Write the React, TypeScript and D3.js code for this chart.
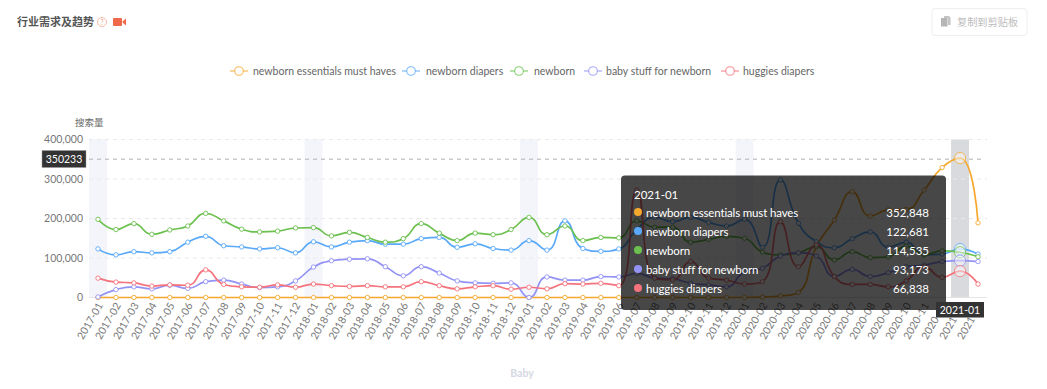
import React from "react";
import * as d3 from "d3";

const years = [2017, 2018, 2019, 2020];
const months = [
  ...years.flatMap((y) => d3.range(1, 13).map((m) => `${y}-${String(m).padStart(2, "0")}`)),
  "2021-01",
  "2021-02",
];

const essentials = [0,0,0,0,0,0,0,0,0,0,0,0,0,0,0,0,0,0,0,0,0,0,0,0,0,0,0,0,0,0,0,0,0,0,0,0,0,1000,4000,13000,129000,196000,268000,206000,222000,223000,272000,329000,352848,189000];
const diapers = [123000,108000,116000,113000,116000,140000,155000,131000,128000,123000,126000,113000,141000,128000,140000,144000,135000,135000,149000,152000,127000,136000,124000,120000,144000,120000,194000,124000,117000,123000,172000,203000,192000,203000,190000,181000,198000,127000,298000,188000,141000,126000,149000,166000,127000,140000,108000,110000,122681,110000];
const newborn = [198000,172000,187000,160000,171000,181000,213000,194000,173000,166000,168000,176000,177000,156000,165000,152000,140000,149000,187000,163000,144000,163000,159000,172000,203000,159000,181000,144000,152000,151000,194000,178000,178000,140000,147000,155000,150000,115000,108000,113000,129000,95000,116000,101000,103000,130000,108000,118000,114535,103000];
const babyStuff = [1300,20000,27000,22000,31000,23000,40000,44000,34000,25000,27000,42000,77000,93000,97000,98000,78000,55000,78000,62000,42000,37000,36000,37000,0,52000,44000,44000,53000,52000,61000,49000,47000,36000,32000,27000,65000,74000,105000,113000,105000,53000,71000,53000,63000,78000,82000,91000,93173,91000];
const huggies = [49000,39000,37000,29000,32000,31000,70000,33000,27000,26000,32000,26000,34000,30000,28000,30000,27000,27000,40000,30000,22000,27000,30000,21000,26000,22000,35000,34000,36000,30000,272000,49000,45000,91000,49000,44000,34000,40000,192000,78000,133000,53000,33000,33000,27000,42000,78000,51000,66838,34000];

const seriesNames = ["newborn essentials must haves", "newborn diapers", "newborn", "baby stuff for newborn", "huggies diapers"];
const seriesValues = [essentials, diapers, newborn, babyStuff, huggies];
const seriesColors = ["#f5a82e", "#5aa9f8", "#6cc04f", "#9393f5", "#f5737c"];
const legendCenters = [239, 411, 519, 593, 730];
const legendTextX = [253, 426, 534, 606, 743];
const yTicks = [0, 100000, 200000, 300000, 400000];
const shadedMonths = ["2017-01", "2018-01", "2019-01", "2020-01"];
const hoverIndex = 48;
const hoverValues = ["352,848", "122,681", "114,535", "93,173", "66,838"];
const pointerValue = 350233;

const FONT = "Lato,'Noto Sans CJK SC',sans-serif";
const CJK = "'Noto Sans CJK SC',sans-serif";

// ECharts-style clamped smooth curve, as a D3 curve factory
function echartsCurve(ctx: any) {
  let pts: [number, number][] = [];
  const smooth = 0.5;
  const clamp = (v: number, a: number, b: number) => Math.max(Math.min(a, b), Math.min(Math.max(a, b), v));
  return {
    lineStart() { pts = []; },
    point(x: number, y: number) { pts.push([+x, +y]); },
    areaStart() {},
    areaEnd() {},
    lineEnd() {
      const n = pts.length;
      if (!n) return;
      ctx.moveTo(pts[0][0], pts[0][1]);
      let cp0: [number, number] = [pts[0][0], pts[0][1]];
      for (let i = 1; i < n; i++) {
        const p = pts[i];
        const prev = pts[i - 1];
        const next = pts[Math.min(i + 1, n - 1)];
        let cpPrev: [number, number], cpNext: [number, number];
        if (i === n - 1) {
          cpPrev = [p[0], p[1]];
          cpNext = [p[0], p[1]];
        } else {
          const vx = next[0] - prev[0];
          const vy = next[1] - prev[1];
          const lp = Math.hypot(p[0] - prev[0], p[1] - prev[1]) || 1e-6;
          const ln = Math.hypot(next[0] - p[0], next[1] - p[1]) || 1e-6;
          const r = ln / (ln + lp);
          let nx = clamp(p[0] + vx * smooth * r, p[0], next[0]);
          let ny = clamp(p[1] + vy * smooth * r, p[1], next[1]);
          let dx = nx - p[0];
          let dy = ny - p[1];
          let px = clamp(p[0] - (dx * lp) / ln, p[0], prev[0]);
          let py = clamp(p[1] - (dy * lp) / ln, p[1], prev[1]);
          dx = p[0] - px;
          dy = p[1] - py;
          nx = p[0] + (dx * ln) / lp;
          ny = p[1] + (dy * ln) / lp;
          cpPrev = [px, py];
          cpNext = [nx, ny];
        }
        ctx.bezierCurveTo(cp0[0], cp0[1], cpPrev[0], cpPrev[1], p[0], p[1]);
        cp0 = cpNext;
      }
    },
  };
}

export default function App() {
  const x = d3.scaleBand<string>().domain(months).range([89, 987]);
  const y = d3.scaleLinear().domain([0, 400000]).range([297.5, 139.5]);
  const cx = (m: string) => (x(m) as number) + x.bandwidth() / 2;
  const line = d3
    .line<number>()
    .x((_, i) => cx(months[i]))
    .y((d) => y(d))
    .curve(echartsCurve as any);
  const fmt = d3.format(",");
  const hx = cx(months[hoverIndex]);
  const rowY = [213, 232, 251, 270, 289];

  return (
    <svg width={1047} height={389} style={{ position: "absolute", left: 0, top: 0, background: "#fff" }} fontFamily={FONT}>
      {/* header */}
      <text x={17} y={25.5} fontFamily={CJK} fontSize={11} fontWeight={700} fill="#555">行业需求及趋势</text>
      <circle cx={102} cy={22} r={4.5} fill="none" stroke="#f2b79d" strokeWidth={0.9} />
      <text x={102} y={25} fontSize={7} textAnchor="middle" fill="#f0a888">?</text>
      <rect x={113} y={18} width={9} height={8} rx={1} fill="#f0694a" />
      <path d="M122.5 21.5 L126 18.5 V25.5 L122.5 22.5 Z" fill="#f0694a" />

      <rect x={932} y={8.5} width={95} height={27} rx={3} fill="#fff" stroke="#eeeeee" />
      <rect x={941} y={18} width={6.5} height={8.5} fill="#b5b5b5" />
      <path d="M944 16 H949 L950.5 17.5 V25 H948 V18 H944 Z" fill="#c4c4c4" />
      <text x={957} y={25.5} fontFamily={CJK} fontSize={10.2} fill="#bcbcbc">复制到剪贴板</text>

      {/* legend */}
      {seriesNames.map((name, i) => (
        <g key={name}>
          <line x1={legendCenters[i] - 9} x2={legendCenters[i] + 9} y1={71} y2={71} stroke={seriesColors[i]} strokeWidth={1.2} strokeOpacity={0.8} />
          <circle cx={legendCenters[i]} cy={71} r={4.3} fill="#fff" stroke={seriesColors[i]} strokeWidth={1.1} strokeOpacity={0.8} />
          <text x={legendTextX[i]} y={75} fontSize={10.5} fill="#666">{name}</text>
        </g>
      ))}

      <text x={75} y={125.5} fontFamily={CJK} fontSize={9.5} fill="#666">搜索量</text>

      {/* shaded bands */}
      {shadedMonths.map((m) => (
        <rect key={m} x={x(m)} y={139.5} width={x.bandwidth()} height={158} fill="#f3f5fa" />
      ))}
      <rect x={x(months[hoverIndex])} y={139.5} width={x.bandwidth()} height={158} fill="#d8dade" />

      {/* grid */}
      {yTicks.map((t) => (
        <g key={t}>
          <line x1={89} x2={987} y1={y(t)} y2={y(t)} stroke={t === 0 ? "#e4e4e4" : "#e9e9e9"} strokeDasharray={t === 0 ? undefined : "4 4"} />
          <text x={83} y={y(t) + 3.8} textAnchor="end" fontSize={10.5} fill="#777">{fmt(t)}</text>
        </g>
      ))}
      <line x1={89} x2={985} y1={y(pointerValue)} y2={y(pointerValue)} stroke="#b0b0b0" strokeDasharray="4 4" />

      {/* x labels */}
      {months.map((m) => (
        <text
          key={m}
          transform={`translate(${cx(m) + 3},304) rotate(-60)`}
          textAnchor="end"
          dominantBaseline="middle"
          fontSize={10.5}
          fill="#777"
        >
          {m}
        </text>
      ))}

      {/* lines */}
      {seriesValues.map((vals, i) => (
        <g key={seriesNames[i]}>
          <path d={line(vals) as string} fill="none" stroke={seriesColors[i]} strokeWidth={1.7} />
          {vals.map((v, j) =>
            j === hoverIndex ? null : (
              <circle key={j} cx={cx(months[j])} cy={y(v)} r={2.2} fill="#fff" stroke={seriesColors[i]} strokeWidth={0.9} />
            )
          )}
          <circle cx={hx} cy={y(vals[hoverIndex])} r={5.6} fill="#ffffff" fillOpacity={0.45} stroke={seriesColors[i]} strokeWidth={1} strokeOpacity={0.75} />
        </g>
      ))}

      <text x={522} y={377} textAnchor="middle" fontSize={10.5} fontWeight={700} fill="#d5d9e2">Baby</text>

      {/* tooltip */}
      <rect x={621} y={175.5} width={325} height={134.5} rx={4} fill="#000" fillOpacity={0.72} />
      <text x={634} y={199} fontSize={11.5} fill="#fff">2021-01</text>
      {seriesNames.map((name, i) => (
        <g key={name}>
          <circle cx={638} cy={rowY[i] - 1} r={4} fill={seriesColors[i]} />
          <text x={646} y={rowY[i] + 4} fontSize={11.5} letterSpacing={-0.15} fill="#fff">{name}</text>
          <text x={929} y={rowY[i] + 4} textAnchor="end" fontSize={11.5} fill="#fff">{hoverValues[i]}</text>
        </g>
      ))}

      {/* axis pointer labels */}
      <rect x={42} y={150.5} width={44} height={17} fill="#333" stroke="#999" strokeWidth={0.5} />
      <text x={64} y={162.8} textAnchor="middle" fontSize={10.5} fill="#fff">{pointerValue}</text>
      <rect x={936} y={302} width={48} height={15.5} fill="#333" />
      <text x={960} y={313.8} textAnchor="middle" fontSize={10.5} fill="#fff">{months[hoverIndex]}</text>
    </svg>
  );
}
